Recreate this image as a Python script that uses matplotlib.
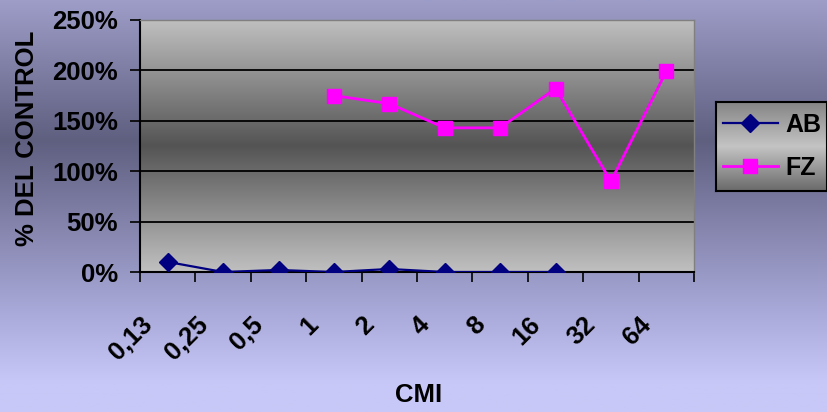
import numpy as np
import matplotlib
matplotlib.use('Agg')
import matplotlib.pyplot as plt
from matplotlib.colors import to_rgb
from matplotlib.transforms import ScaledTranslation

plt.rcParams['font.family'] = ['Liberation Sans', 'DejaVu Sans']
plt.rcParams['font.weight'] = 'bold'
plt.rcParams['axes.labelweight'] = 'bold'

# concentration categories and % of control per compound
cmi = ['0,13', '0,25', '0,5', '1', '2', '4', '8', '16', '32', '64']
ab = [10, 0, 2, 0, 3, 0, 0, 0]          # starts at 0,13
fz = [175, 167, 143, 143, 182, 90, 199]  # starts at 1
fz_start = 3


def vgrad(stops, n=256):
    # vertical colour ramp, row 0 = top
    pos = [p for p, c in stops]
    cols = np.array([to_rgb(c) for p, c in stops])
    t = np.linspace(0, 1, n)
    img = np.stack([np.interp(t, pos, cols[:, k]) for k in range(3)], axis=-1)
    return img[:, None, :]


fig = plt.figure(figsize=(8.27, 4.12), dpi=100)

bg = fig.add_axes([0, 0, 1, 1], zorder=-10)
bg.imshow(vgrad([(0, '#9d9dc8'), (0.34, '#5f5f80'), (0.75, '#a8a8d8'),
                 (0.93, '#c8c8f8'), (1, '#c8c8f8')]),
          aspect='auto', extent=[0, 1, 0, 1])
bg.axis('off')

ax = fig.add_axes([0.1693, 0.3398, 0.6699, 0.6117])
ax.imshow(vgrad([(0, '#c0c0c0'), (0.5, '#545454'), (1, '#c0c0c0')]),
          aspect='auto', extent=[0, 1, 0, 1], transform=ax.transAxes, zorder=0)

x = np.arange(len(cmi))
l1, = ax.plot(x[:len(ab)], ab, color='#000080', lw=1.6, marker='D', ms=9,
              zorder=3, label='AB')
l2, = ax.plot(x[fz_start:fz_start + len(fz)], fz, color='#ff00ff', lw=2,
              marker='s', ms=10, zorder=3, label='FZ')

ax.set_xlim(-0.5, len(cmi) - 0.5)
ax.set_ylim(0, 250)

yt = list(range(0, 251, 50))
ax.set_yticks(yt, [f'{v}%' for v in yt])
ax.yaxis.grid(True, color='black', lw=1.3)
ax.tick_params(axis='y', length=7, width=1.2, pad=9, labelsize=18.5)

ax.set_xticks(np.arange(-0.5, len(cmi)), [''] * (len(cmi) + 1))
ax.set_xticks(x, cmi, minor=True)
ax.tick_params(axis='x', which='major', length=7, width=1.2)
ax.tick_params(axis='x', which='minor', length=0, pad=35, labelsize=18.5)
off = ScaledTranslation(-0.19, 0, fig.dpi_scale_trans)
for lbl in ax.get_xticklabels(minor=True):
    lbl.set_rotation(45)
    lbl.set_ha('right')
    lbl.set_va('center')
    lbl.set_rotation_mode('anchor')
    lbl.set_transform(lbl.get_transform() + off)

for s in ['left', 'bottom']:
    ax.spines[s].set_color('black')
    ax.spines[s].set_linewidth(1.5)
for s in ['top', 'right']:
    ax.spines[s].set_color('#808080')
    ax.spines[s].set_linewidth(1)

ax.set_ylabel('% DEL CONTROL', fontsize=18.5)
ax.yaxis.set_label_coords(-0.182, 0.532)
ax.set_xlabel('CMI', fontsize=18.5)
ax.xaxis.set_label_coords(0.502, -0.44)

lax = fig.add_axes([0.8658, 0.5364, 0.1342, 0.216])
lax.imshow(vgrad([(0, '#858585'), (0.5, '#c4c4c4'), (1, '#6a6a6a')]),
           aspect='auto', extent=[0, 1, 0, 1])
lax.set_xticks([])
lax.set_yticks([])
for s in lax.spines.values():
    s.set_color('black')
    s.set_linewidth(1.5)
lax.legend([l1, l2], ['AB', 'FZ'], loc='center left', bbox_to_anchor=(0.06, 0.5),
           frameon=False, fontsize=18, handlelength=2.2, handletextpad=0.3,
           labelspacing=0.75, borderpad=0, borderaxespad=0)

fig.savefig('out.png', dpi=100)
